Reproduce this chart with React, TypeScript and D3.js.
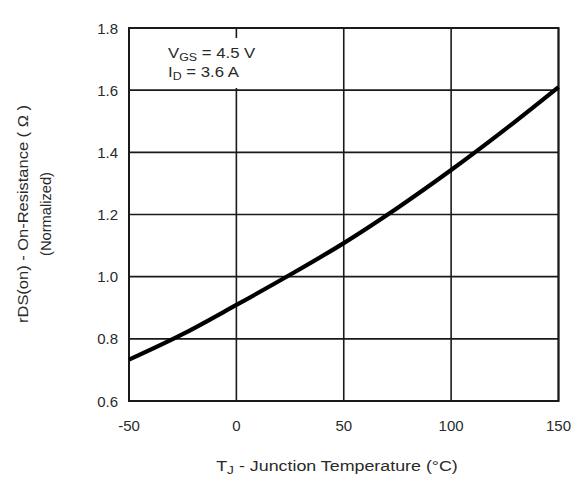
import React from "react";
import * as d3 from "d3";

const temps = [-50, -25, 0, 25, 50, 75, 100, 125, 150];
const rdsNorm = [0.733, 0.815, 0.909, 1.006, 1.108, 1.221, 1.343, 1.473, 1.61];
const xTicks = [-50, 0, 50, 100, 150];
const yTicks = [0.6, 0.8, 1.0, 1.2, 1.4, 1.6, 1.8];

const W = 580;
const H = 478;
const left = 129;
const right = 558.5;
const top = 28;
const bottom = 401;
const font = "'Liberation Sans', Arial, sans-serif";
const txt = "#2a2a2a";

export default function App() {
  const x = d3.scaleLinear().domain([-50, 150]).range([left, right]);
  const y = d3.scaleLinear().domain([0.6, 1.8]).range([bottom, top]);
  const pts = temps.map((t, i) => [t, rdsNorm[i]] as [number, number]);
  const line = d3
    .line<[number, number]>()
    .x((d) => x(d[0]))
    .y((d) => y(d[1]))
    .curve(d3.curveMonotoneX);

  return (
    <div style={{ position: "absolute", left: 0, top: 0 }}>
      <svg width={W} height={H} style={{ display: "block", background: "#fff" }}>
        {/* grid */}
        {xTicks.map((t) => (
          <line key={"gx" + t} x1={x(t)} x2={x(t)} y1={top} y2={bottom} stroke="#1a1a1a" strokeWidth={1.6} />
        ))}
        {yTicks.map((t) => (
          <line key={"gy" + t} x1={left} x2={right} y1={y(t)} y2={y(t)} stroke="#1a1a1a" strokeWidth={1.6} />
        ))}
        {/* annotation background */}
        <rect x={150} y={38} width={140} height={50} fill="#fff" />
        <rect x={left} y={top} width={right - left} height={bottom - top} fill="none" stroke="#1a1a1a" strokeWidth={2} />
        {/* curve */}
        <path d={line(pts) || ""} fill="none" stroke="#000" strokeWidth={4.2} strokeLinecap="butt" />
        {/* annotation */}
        <g transform="translate(168,58) scale(1.08,1)">
          <text x={0} y={0} fontFamily={font} fontSize={15.5} fill={txt}>
            V<tspan fontSize={11.5} dy={3}>GS</tspan>
            <tspan dy={-3}> = 4.5 V</tspan>
          </text>
        </g>
        <g transform="translate(168,77) scale(1.08,1)">
          <text x={0} y={0} fontFamily={font} fontSize={15.5} fill={txt}>
            I<tspan fontSize={11.5} dy={3}>D</tspan>
            <tspan dy={-3}> = 3.6 A</tspan>
          </text>
        </g>
        {/* y tick labels */}
        {yTicks.map((t) => (
          <text key={"yl" + t} x={118} y={y(t) + 5.5} textAnchor="end" fontFamily={font} fontSize={15} fill={txt}>
            {t.toFixed(1)}
          </text>
        ))}
        {/* x tick labels */}
        {xTicks.map((t) => (
          <text key={"xl" + t} x={x(t)} y={431} textAnchor="middle" fontFamily={font} fontSize={15} fill={txt}>
            {t}
          </text>
        ))}
        {/* x title */}
        <g transform="translate(337,471) scale(1.19,1)">
          <text x={0} y={0} textAnchor="middle" fontFamily={font} fontSize={15} fill={txt}>
            T<tspan fontSize={11.5} dy={3}>J</tspan>
            <tspan dy={-3}> - Junction Temperature (°C)</tspan>
          </text>
        </g>
        {/* y title */}
        <text
          transform="translate(28,214) rotate(-90)"
          textAnchor="middle"
          fontFamily={font}
          fontSize={14.5}
          fill={txt}
          textLength={218}
          lengthAdjust="spacingAndGlyphs"
        >
          rDS(on) - On-Resistance ( Ω )
        </text>
        <text
          transform="translate(51,214) rotate(-90)"
          textAnchor="middle"
          fontFamily={font}
          fontSize={14.5}
          fill={txt}
          textLength={84}
          lengthAdjust="spacingAndGlyphs"
        >
          (Normalized)
        </text>
      </svg>
    </div>
  );
}
